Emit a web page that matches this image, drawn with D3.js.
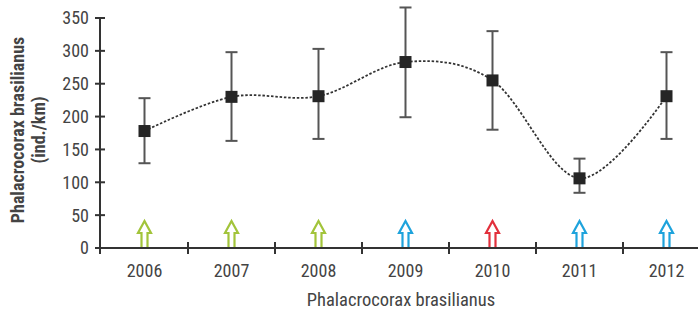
<!DOCTYPE html>
<html><head><meta charset="utf-8">
<script src="https://cdn.jsdelivr.net/npm/d3@7"></script>
<style>body{margin:0;background:#fff}svg{display:block}</style>
</head><body><svg id="c" width="698" height="313"></svg>
<script>
const years = ["2006","2007","2008","2009","2010","2011","2012"];
const means = [178, 230, 231, 283, 255, 106, 231];
const upper = [228, 298, 303, 366, 330, 136, 298];
const lower = [129, 163, 166, 199, 180, 84, 166];
const arrowColors = ["#a2c43a","#a2c43a","#a2c43a","#1ea3dc","#e2303c","#1ea3dc","#1ea3dc"];
const yTicks = [0,50,100,150,200,250,300,350];
const yTitle = ["Phalacrocorax brasilianus","(ind./km)"];
const xTitle = "Phalacrocorax brasilianus";

const font = "'Liberation Sans Narrow','Roboto Condensed','Liberation Sans',Arial,sans-serif";
const svg = d3.select("#c");
const x = d3.scaleBand().domain(years).range([101, 710]).padding(0);
const y = d3.scaleLinear().domain([0,350]).range([248, 18]);
const axisColor = "#333";

// y axis
const gy = svg.append("g");
gy.append("line").attr("x1",100).attr("x2",100).attr("y1",y(350)).attr("y2",y(0)).attr("stroke",axisColor).attr("stroke-width",2);
gy.selectAll("line.t").data(yTicks).join("line").attr("class","t")
  .attr("x1",95).attr("x2",105).attr("y1",d=>y(d)).attr("y2",d=>y(d)).attr("stroke",axisColor).attr("stroke-width",2);
gy.selectAll("text").data(yTicks).join("text")
  .attr("x",89).attr("y",d=>y(d)).attr("dy","0.36em").attr("text-anchor","end")
  .attr("font-family",font).attr("font-size",18).attr("fill","#444").text(d=>d);

// x axis
const gx = svg.append("g");
gx.append("line").attr("x1",95).attr("x2",698).attr("y1",y(0)).attr("y2",y(0)).attr("stroke",axisColor).attr("stroke-width",2);
const seps = years.slice(1).map(d=>x(d));
gx.selectAll("line.t").data([100].concat(seps)).join("line").attr("class","t")
  .attr("x1",d=>d).attr("x2",d=>d).attr("y1",y(0)-6).attr("y2",y(0)+6).attr("stroke",axisColor).attr("stroke-width",2);
gx.selectAll("text").data(years).join("text")
  .attr("x",d=>x(d)+x.bandwidth()/2).attr("y",277).attr("text-anchor","middle")
  .attr("font-family",font).attr("font-size",18).attr("fill","#444").text(d=>d);

// titles
svg.append("text").attr("x",401).attr("y",306).attr("text-anchor","middle")
  .attr("font-family",font).attr("font-size",18.5).attr("fill","#444").text(xTitle);
const yt = svg.append("text").attr("transform","translate(0,130) rotate(-90)")
  .attr("text-anchor","middle").attr("font-family",font).attr("font-size",18).attr("font-weight","bold").attr("fill","#444");
yt.selectAll("tspan").data(yTitle).join("tspan").attr("x",0).attr("y",(d,i)=>i===0?24:45).text(d=>d);

// arrows
const cx = d => x(d)+x.bandwidth()/2;
years.forEach((yr,i)=>{
  const c = cx(yr), b = y(0)-1, t = 221, hw = 6.5, sw = 3, hb = 233;
  const p = [[c-sw,b],[c-sw,hb],[c-hw,hb],[c,t],[c+hw,hb],[c+sw,hb],[c+sw,b]];
  svg.append("path").attr("d", d3.line()(p)).attr("fill","none").attr("stroke",arrowColors[i]).attr("stroke-width",2.2).attr("stroke-linejoin","miter");
});

// line
const pts = years.map((d,i)=>[cx(d), y(means[i])]);
svg.append("path").attr("d", d3.line().curve(d3.curveCardinal.tension(0))(pts))
  .attr("fill","none").attr("stroke","#333").attr("stroke-width",1.8).attr("stroke-dasharray","2.5,1.8");

// error bars
const eb = svg.append("g").attr("stroke","#555").attr("stroke-width",2);
years.forEach((d,i)=>{
  const c = cx(d);
  eb.append("line").attr("x1",c).attr("x2",c).attr("y1",y(upper[i])).attr("y2",y(lower[i]));
  eb.append("line").attr("x1",c-6).attr("x2",c+6).attr("y1",y(upper[i])).attr("y2",y(upper[i]));
  eb.append("line").attr("x1",c-6).attr("x2",c+6).attr("y1",y(lower[i])).attr("y2",y(lower[i]));
});
// markers
svg.selectAll("rect.m").data(years).join("rect").attr("class","m")
  .attr("x",d=>cx(d)-6).attr("y",(d,i)=>y(means[i])-6).attr("width",12).attr("height",12).attr("fill","#252525");
</script></body></html>
